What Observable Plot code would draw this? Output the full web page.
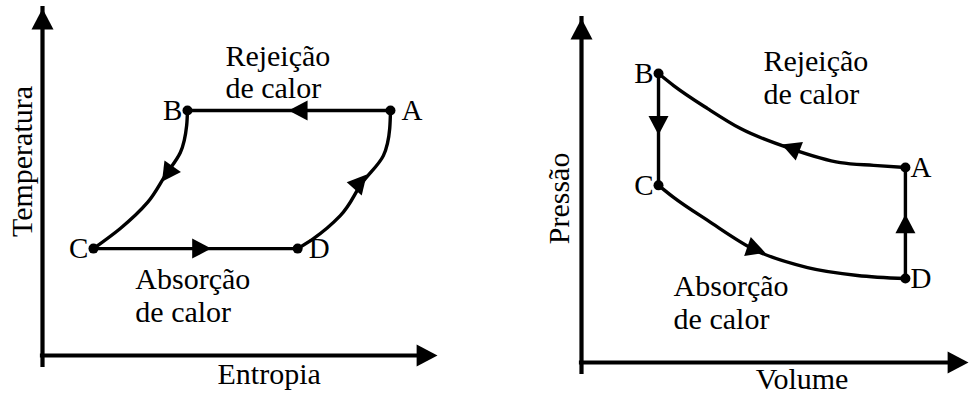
<!DOCTYPE html>
<html><head><meta charset="utf-8">
<script src="https://cdn.jsdelivr.net/npm/d3@7"></script>
<script src="https://cdn.jsdelivr.net/npm/@observablehq/plot@0.6"></script>
<style>
html,body{margin:0;padding:0;background:#fff;}
#wrap{display:flex;width:970px;height:394px;background:#fff;}
svg text{font-family:"Liberation Serif","Times New Roman",serif !important;}
</style></head><body><div id="wrap"></div>
<script>
// ===== Left diagram: Temperatura x Entropia (arbitrary units 0..10) =====
const tsStates = [
  {state: "A", x: 8.81, y: 7.06, side: "right"},
  {state: "B", x: 3.67, y: 7.06, side: "left"},
  {state: "C", x: 1.29, y: 3.08, side: "left"},
  {state: "D", x: 6.46, y: 3.08, side: "right"}
];
const tsStraight = [
  [[8.81, 7.06], [3.67, 7.06]],            // A -> B
  [[1.29, 3.08], [6.46, 3.08]]             // C -> D
];
// curved processes, listed by increasing temperature
const tsCurves = [
  [[1.29, 3.08], [1.97, 3.66], [2.66, 4.41], [3.11, 5.19], [3.49, 5.85], [3.65, 6.63], [3.67, 7.06]], // C <- B
  [[6.46, 3.08], [6.86, 3.37], [7.54, 4.03], [8.10, 4.99], [8.63, 5.76], [8.79, 6.54], [8.81, 7.06]]  // D -> A
];
const tsArrows = [ // arrow position and a point further along the process
  {x: 6.47, y: 7.06, x2: 5.50, y2: 7.06},
  {x: 3.16, y: 5.23, x2: 2.66, y2: 4.41},
  {x: 4.03, y: 3.08, x2: 5.00, y2: 3.08},
  {x: 8.05, y: 5.01, x2: 8.63, y2: 5.76}
];
const tsNotes = [
  {text: "Rejeição\nde calor", x: 4.63, y: 8.18},
  {text: "Absorção\nde calor", x: 2.35, y: 1.74}
];
const tsTitles = [
  {text: "Entropia", x: 4.43, y: -0.53, rotate: 0, anchor: "start"},
  {text: "Temperatura", x: -0.51, y: 5.59, rotate: -90, anchor: "middle"}
];

// ===== Right diagram: Pressão x Volume (arbitrary units 0..10) =====
const pvStates = [
  {state: "A", x: 8.37, y: 5.67, side: "right"},
  {state: "B", x: 1.99, y: 8.40, side: "left"},
  {state: "C", x: 1.99, y: 5.15, side: "left"},
  {state: "D", x: 8.37, y: 2.44, side: "right"}
];
const pvStraight = [
  [[1.99, 8.40], [1.99, 5.15]],            // B -> C
  [[8.37, 2.44], [8.37, 5.67]]             // D -> A
];
// curved processes, listed by increasing volume
const pvCurves = [
  [[1.99, 8.40], [2.38, 8.05], [3.26, 7.38], [4.11, 6.80], [5.40, 6.22], [6.69, 5.81], [7.55, 5.73], [8.37, 5.67]], // B <- A
  [[1.99, 5.15], [2.38, 4.80], [3.26, 4.13], [4.50, 3.26], [5.84, 2.76], [7.13, 2.53], [8.37, 2.44]]                // C -> D
];
const pvArrows = [
  {x: 5.40, y: 6.24, x2: 4.11, y2: 6.80},
  {x: 1.99, y: 6.89, x2: 1.99, y2: 5.15},
  {x: 4.52, y: 3.28, x2: 5.84, y2: 2.76},
  {x: 8.37, y: 4.03, x2: 8.37, y2: 5.67}
];
const pvNotes = [
  {text: "Rejeição\nde calor", x: 4.70, y: 8.30},
  {text: "Absorção\nde calor", x: 2.38, y: 1.76}
];
const pvTitles = [
  {text: "Volume", x: 4.50, y: -0.48, rotate: 0, anchor: "start"},
  {text: "Pressão", x: -0.57, y: 4.77, rotate: -90, anchor: "middle"}
];

// axis arrow heads (tip at the end of each axis)
const axisHeads = [
  {x: 0, y: 10, x2: 0, y2: 11},
  {x: 10, y: 0, x2: 11, y2: 0}
];

const FONT = "Liberation Serif, Times New Roman, serif";

function headSymbol(mode) {
  return {
    draw(ctx, size) {
      const r = Math.sqrt(size / Math.PI);
      const L = 1.9 * r, W = r;
      const top = mode === "tip" ? 0 : -L / 2;
      ctx.moveTo(0, top);
      ctx.lineTo(W, top + L);
      ctx.lineTo(-W, top + L);
      ctx.closePath();
    }
  };
}
const tipHead = headSymbol("tip");
const midHead = headSymbol("mid");

function panel(cfg) {
  const {width, height, ml, mr, mt, mb, states, straight, curves, curve, arrows, notes, titles, gapR, gapL} = cfg;
  const sx = (width - ml - mr) / 10, sy = (height - mt - mb) / 10;
  const rot = d => Math.atan2((d.x2 - d.x) * sx, (d.y2 - d.y) * sy) * 180 / Math.PI;
  const marks = [
    Plot.ruleX([0], {y1: 0, y2: 10, insetTop: 10, stroke: "black", strokeWidth: 4.2, strokeLinecap: "square"}),
    Plot.ruleY([0], {x1: 0, x2: 10, insetRight: 10, stroke: "black", strokeWidth: 4.2, strokeLinecap: "square"}),
    Plot.dot(axisHeads, {x: "x", y: "y", symbol: tipHead, r: 11, fill: "black", rotate: rot}),
    ...straight.map(p => Plot.line(p, {stroke: "black", strokeWidth: 3.4})),
    ...curves.map(p => Plot.line(p, {curve, stroke: "black", strokeWidth: 3.4})),
    Plot.dot(arrows, {x: "x", y: "y", symbol: midHead, r: 10, fill: "black", rotate: rot}),
    Plot.dot(states, {x: "x", y: "y", r: 5, fill: "black"}),
    Plot.text(states.filter(d => d.side === "right"), {x: "x", y: "y", text: "state", textAnchor: "start", dx: gapR, fontSize: 29, fontFamily: FONT, fill: "black"}),
    Plot.text(states.filter(d => d.side === "left"), {x: "x", y: "y", text: "state", textAnchor: "end", dx: gapL, fontSize: 29, fontFamily: FONT, fill: "black"}),
    Plot.text(notes, {x: "x", y: "y", text: "text", textAnchor: "start", lineAnchor: "middle", lineHeight: 1.08, fontSize: 30, fontFamily: FONT, fill: "black"}),
    ...titles.map(t => Plot.text([t], {x: "x", y: "y", text: "text", rotate: t.rotate, textAnchor: t.anchor, fontSize: 30, fontFamily: FONT, fill: "black"}))
  ];
  return Plot.plot({
    width, height,
    marginLeft: ml, marginRight: mr, marginTop: mt, marginBottom: mb,
    x: {domain: [0, 10], axis: null},
    y: {domain: [0, 10], axis: null},
    style: {background: "white", overflow: "visible", fontFamily: FONT},
    marks
  });
}

const wrap = document.getElementById("wrap");
wrap.appendChild(panel({width: 485, height: 394, ml: 42, mr: 48, mt: 8, mb: 39,
  states: tsStates, straight: tsStraight, curves: tsCurves, curve: "monotone-y", arrows: tsArrows,
  notes: tsNotes, titles: tsTitles, gapR: 11, gapL: -5}));
wrap.appendChild(panel({width: 485, height: 394, ml: 96, mr: 2, mt: 18, mb: 32,
  states: pvStates, straight: pvStraight, curves: pvCurves, curve: "monotone-x", arrows: pvArrows,
  notes: pvNotes, titles: pvTitles, gapR: 5, gapL: -5}));
</script>
</body></html>
